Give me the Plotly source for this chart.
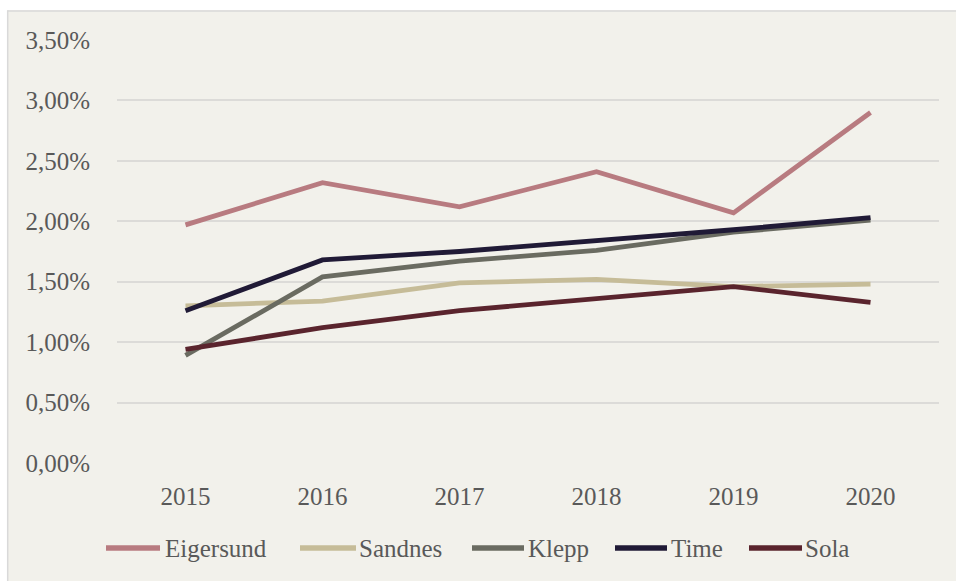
import plotly.graph_objects as go

years = ["2015", "2016", "2017", "2018", "2019", "2020"]
eigersund = [1.97, 2.32, 2.12, 2.41, 2.07, 2.90]
sandnes = [1.30, 1.34, 1.49, 1.52, 1.46, 1.48]
klepp = [0.89, 1.54, 1.67, 1.76, 1.91, 2.01]
time_ = [1.26, 1.68, 1.75, 1.84, 1.93, 2.03]
sola = [0.94, 1.12, 1.26, 1.36, 1.46, 1.33]

names = ["Eigersund", "Sandnes", "Klepp", "Time", "Sola"]
values = [eigersund, sandnes, klepp, time_, sola]
colors = ["#b87b80", "#c6bc98", "#6a6b61", "#201a36", "#5a242d"]

y_ticks = [0.0, 0.5, 1.0, 1.5, 2.0, 2.5, 3.0, 3.5]
y_tick_labels = ["0,00%", "0,50%", "1,00%", "1,50%", "2,00%", "2,50%", "3,00%", "3,50%"]

FONT = "Liberation Serif"
TXT = "#595959"
BG = "#f2f1eb"

# plot-area geometry (pixels) used to place the frame and custom legend
PL, PR, PT, PB = 117, 939, 40, 463
def px_x(p):
    return (p - PL) / (PR - PL)
def px_y(p):
    return (PB - p) / (PB - PT)

legend_line_x = [(106, 160), (300, 356), (472, 524), (615, 667), (749, 802)]
legend_text_x = [163, 357, 526, 669, 803]
legend_y = 548

fig = go.Figure()
for name, vals, col in zip(names, values, colors):
    fig.add_trace(go.Scatter(
        x=years, y=vals, name=name, mode="lines",
        line=dict(color=col, width=4.8), showlegend=False,
    ))

# white strips above / left of the chart frame, and frame border (top + left)
fig.add_shape(type="rect", xref="paper", yref="paper",
              x0=px_x(-20), x1=px_x(1000), y0=px_y(10.3), y1=px_y(-20),
              fillcolor="white", line=dict(width=0), layer="below")
fig.add_shape(type="rect", xref="paper", yref="paper",
              x0=px_x(-20), x1=px_x(7), y0=px_y(700), y1=px_y(-20),
              fillcolor="white", line=dict(width=0), layer="below")
fig.add_shape(type="line", xref="paper", yref="paper",
              x0=px_x(7.7), x1=px_x(1000), y0=px_y(11), y1=px_y(11),
              line=dict(color="#d9d9d9", width=1.5), layer="below")
fig.add_shape(type="line", xref="paper", yref="paper",
              x0=px_x(7.7), x1=px_x(7.7), y0=px_y(10.3), y1=px_y(700),
              line=dict(color="#d9d9d9", width=1.5), layer="below")

# legend
for name, col, (x0, x1), tx in zip(names, colors, legend_line_x, legend_text_x):
    fig.add_shape(type="line", xref="paper", yref="paper",
                  x0=px_x(x0), x1=px_x(x1), y0=px_y(legend_y), y1=px_y(legend_y),
                  line=dict(color=col, width=5.5))
    fig.add_annotation(xref="paper", yref="paper", x=px_x(tx), y=px_y(legend_y),
                       text=name, showarrow=False, xanchor="left", yanchor="middle",
                       font=dict(family=FONT, size=25, color=TXT))

fig.update_layout(
    width=956, height=581,
    paper_bgcolor=BG, plot_bgcolor="rgba(0,0,0,0)",
    margin=dict(l=PL, r=956 - PR, t=PT, b=581 - PB),
    font=dict(family=FONT, size=25, color=TXT),
    showlegend=False,
    hovermode=False,
    xaxis=dict(
        type="category", range=[-0.5, 5.5],
        showgrid=False, zeroline=False, showline=False, ticks="",
        tickfont=dict(family=FONT, size=25, color=TXT),
        ticklabelstandoff=16,
    ),
    yaxis=dict(
        range=[0, 3.5], tickvals=y_ticks, ticktext=y_tick_labels,
        showgrid=True, gridcolor="#dcdbd8", gridwidth=1.5,
        zeroline=False, showline=False, ticks="",
        tickfont=dict(family=FONT, size=25, color=TXT),
        ticklabelstandoff=26,
    ),
)

fig.write_html(
    "out.html",
    config={"displayModeBar": False},
    post_script="document.body.style.margin='0';document.body.style.overflow='hidden';",
)
